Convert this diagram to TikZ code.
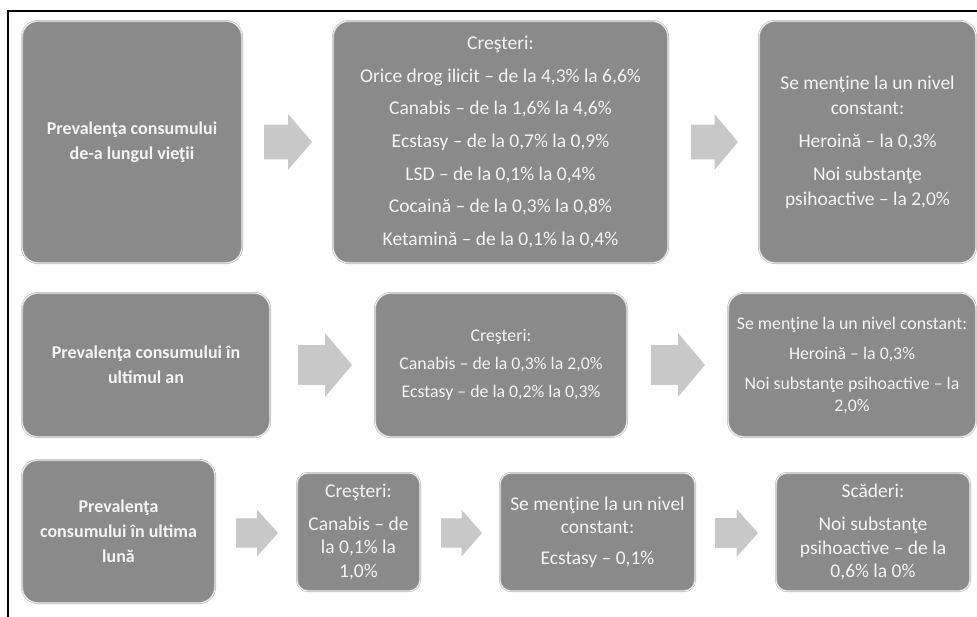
\documentclass[tikz,border=0pt]{standalone}
\usepackage{fontspec}
\setmainfont{Carlito}
\usepackage{tikz}
\definecolor{boxgray}{RGB}{138,138,138}
\definecolor{arrowgray}{RGB}{200,200,200}
\definecolor{boxtext}{RGB}{245,245,245}

\begin{document}
\begin{tikzpicture}[x=1pt,y=-1pt,
    box/.style={rectangle,rounded corners=16pt,fill=boxgray,draw=gray!55,double=white!92!gray,double distance=0.8pt,line width=0.6pt,inner sep=0pt,align=center,text=boxtext},
    smallbox/.style={box,rounded corners=11pt},
    headtext/.style={font=\fontsize{18}{25}\selectfont\bfseries},
    bigtext/.style={font=\fontsize{19.5}{25}\selectfont},
    midtext/.style={font=\fontsize{17.8}{22}\selectfont},
    lowtext/.style={font=\fontsize{19.5}{23.5}\selectfont},
    blockarrow/.style={fill=arrowgray}]
        \useasboundingbox (0,0) rectangle (977,616);
        \draw[line width=2.5pt] (8,620) -- (8,11) -- (980,11);

        \node[box,headtext,minimum width=220pt,minimum height=242pt] (prevLife) at (132,142) {Prevalenţa consumului\\de-a lungul vieţii};
        \node[box,bigtext,minimum width=335pt,minimum height=242pt] (incLife) at (500.5,142) {Creşteri:\\[7.7pt]Orice drog ilicit – de la 4,3\% la 6,6\%\\[7.7pt]Canabis – de la 1,6\% la 4,6\%\\[7.7pt]Ecstasy – de la 0,7\% la 0,9\%\\[7.7pt]LSD – de la 0,1\% la 0,4\%\\[7.7pt]Cocaină – de la 0,3\% la 0,8\%\\[7.7pt]Ketamină – de la 0,1\% la 0,4\%};
        \node[box,bigtext,minimum width=217pt,minimum height=242pt] (constLife) at (867.5,142) {Se menţine la un nivel\\constant:\\[8pt]Heroină – la 0,3\%\\[8pt]Noi substanţe\\psihoactive – la 2,0\%};

        \node[box,headtext,minimum width=248pt,minimum height=144pt] (prevYear) at (146,365) {Prevalenţa consumului în\\ultimul an};
        \node[box,midtext,minimum width=252pt,minimum height=144pt] (incYear) at (501,365) {Creşteri:\\[6pt]Canabis – de la 0,3\% la 2,0\%\\[6pt]Ecstasy – de la 0,2\% la 0,3\%};
        \node[box,midtext,minimum width=248pt,minimum height=144pt] (constYear) at (852,365) {Se menţine la un nivel constant:\\[8pt]Heroină – la 0,3\%\\[8pt]Noi substanţe psihoactive – la\\2,0\%};

        \node[box,headtext,minimum width=193pt,minimum height=143pt] (prevMonth) at (118.5,531.5) {Prevalenţa\\consumului în ultima\\lună};
        \node[smallbox,lowtext,minimum width=123pt,minimum height=118pt] (incMonth) at (358.5,532) {Creşteri:\\[9pt]Canabis – de\\la 0,1\% la\\1,0\%};
        \node[smallbox,lowtext,minimum width=195pt,minimum height=118pt] (constMonth) at (597.5,532) {Se menţine la un nivel\\constant:\\[7pt]Ecstasy – 0,1\%};
        \node[smallbox,lowtext,minimum width=194pt,minimum height=118pt] (decMonth) at (873,532) {Scăderi:\\[10pt]Noi substanţe\\psihoactive – de la\\0,6\% la 0\%};

        \foreach \ax/\ay/\al/\ah in {264/142/48/56, 691/142/47/56, 298/365/54/64, 651/365/54/64, 236/533/42/47, 441/533/41/47, 715/533/43/48}
            \fill[blockarrow] (\ax,\ay-0.31*\ah) -- (\ax+0.5*\al,\ay-0.31*\ah) -- (\ax+0.5*\al,\ay-0.5*\ah) -- (\ax+\al,\ay) -- (\ax+0.5*\al,\ay+0.5*\ah) -- (\ax+0.5*\al,\ay+0.31*\ah) -- (\ax,\ay+0.31*\ah) -- cycle;
    \end{tikzpicture}
\end{document}
